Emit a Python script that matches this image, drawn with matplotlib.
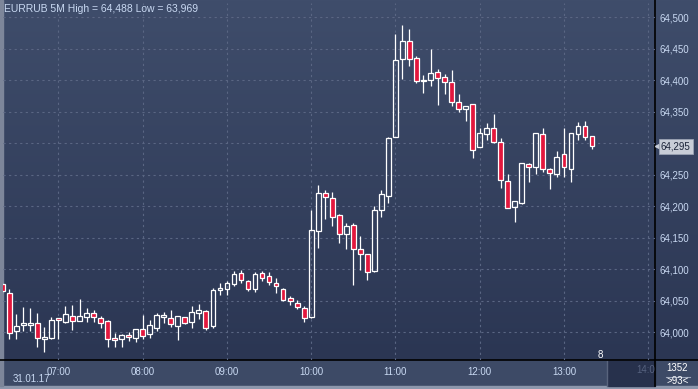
import numpy as np
import matplotlib
matplotlib.use('Agg')
import matplotlib.pyplot as plt
from matplotlib.colors import LinearSegmentedColormap
from matplotlib.transforms import blended_transform_factory

# EURRUB 5-minute candles, 31.01.17, first bar 06:20
start_minute = 6 * 60 + 20
opens = [64.076, 64.062, 64.002, 64.011, 64.011, 64.015, 63.990, 63.991, 64.022, 64.017,
         64.026, 64.018, 64.025, 64.031, 64.022, 64.018, 63.991, 63.989, 63.996, 63.991,
         64.006, 63.997, 64.007, 64.024, 64.022, 64.010, 64.024, 64.017, 64.030, 64.034,
         64.010, 64.067, 64.069, 64.077, 64.094, 64.081, 64.068, 64.094, 64.089, 64.078,
         64.069, 64.054, 64.046, 64.038, 64.024, 64.161, 64.221, 64.213, 64.186, 64.156,
         64.171, 64.132, 64.124, 64.098, 64.194, 64.217, 64.310, 64.434, 64.462, 64.435,
         64.399, 64.401, 64.413, 64.405, 64.398, 64.365, 64.354, 64.362, 64.294, 64.314,
         64.325, 64.302, 64.240, 64.199, 64.206, 64.267, 64.263, 64.314, 64.259, 64.252,
         64.283, 64.260, 64.314, 64.327, 64.311]
highs = [64.078, 64.069, 64.029, 64.040, 64.039, 64.031, 64.009, 64.024, 64.022, 64.042,
         64.043, 64.053, 64.038, 64.035, 64.026, 64.020, 63.999, 63.998, 64.000, 64.006,
         64.027, 64.020, 64.031, 64.032, 64.035, 64.026, 64.025, 64.042, 64.045, 64.035,
         64.071, 64.079, 64.082, 64.098, 64.099, 64.083, 64.095, 64.098, 64.095, 64.086,
         64.071, 64.058, 64.051, 64.041, 64.194, 64.234, 64.226, 64.223, 64.187, 64.173,
         64.173, 64.153, 64.124, 64.200, 64.226, 64.310, 64.473, 64.488, 64.481, 64.438,
         64.408, 64.450, 64.418, 64.410, 64.416, 64.378, 64.360, 64.362, 64.324, 64.333,
         64.346, 64.309, 64.251, 64.208, 64.268, 64.269, 64.317, 64.324, 64.261, 64.288,
         64.324, 64.316, 64.334, 64.336, 64.312]
lows = [64.062, 63.990, 63.990, 64.002, 64.002, 63.976, 63.969, 63.989, 63.990, 64.014,
        64.003, 64.018, 64.017, 64.017, 64.007, 63.976, 63.976, 63.976, 63.986, 63.985,
        63.989, 63.991, 64.002, 64.014, 64.009, 63.988, 64.013, 64.007, 64.021, 64.003,
        64.007, 64.060, 64.060, 64.073, 64.079, 64.066, 64.064, 64.081, 64.075, 64.063,
        64.050, 64.044, 64.037, 64.017, 64.022, 64.134, 64.180, 64.169, 64.142, 64.132,
        64.075, 64.099, 64.083, 64.096, 64.183, 64.206, 64.310, 64.402, 64.423, 64.395,
        64.380, 64.391, 64.361, 64.379, 64.359, 64.349, 64.336, 64.277, 64.294, 64.305,
        64.301, 64.229, 64.197, 64.175, 64.203, 64.239, 64.252, 64.254, 64.227, 64.247,
        64.247, 64.239, 64.306, 64.306, 64.291]
closes = [64.066, 63.999, 64.010, 64.014, 64.015, 63.991, 63.992, 64.019, 64.019, 64.029,
          64.018, 64.026, 64.031, 64.025, 64.015, 63.990, 63.987, 63.995, 63.993, 64.006,
          63.994, 64.011, 64.027, 64.027, 64.013, 64.026, 64.015, 64.033, 64.035, 64.007,
          64.067, 64.070, 64.078, 64.092, 64.083, 64.068, 64.093, 64.086, 64.080, 64.073,
          64.052, 64.049, 64.040, 64.022, 64.163, 64.221, 64.214, 64.183, 64.156, 64.168,
          64.133, 64.124, 64.096, 64.194, 64.219, 64.308, 64.433, 64.463, 64.434, 64.399,
          64.400, 64.411, 64.403, 64.397, 64.365, 64.354, 64.360, 64.290, 64.317, 64.325,
          64.302, 64.242, 64.198, 64.208, 64.268, 64.263, 64.316, 64.259, 64.253, 64.279,
          64.262, 64.316, 64.327, 64.310, 64.295]

hour_labels = ['07:00', '08:00', '09:00', '10:00', '11:00', '12:00', '13:00']
price_ticks = [64.000, 64.050, 64.100, 64.150, 64.200, 64.250, 64.300, 64.350, 64.400, 64.450, 64.500]

RED = '#e3173d'
TXT = '#c9d9f2'
GRID = '#5a6683'

W, H = 698, 389
fig = plt.figure(figsize=(W / 100, H / 100), dpi=100)

# background panels drawn in pixel coordinates
bg = fig.add_axes([0, 0, 1, 1])
bg.set_xlim(0, W)
bg.set_ylim(H, 0)
bg.axis('off')
grad = LinearSegmentedColormap.from_list('bg', ['#3f4d6b', '#2b3653'])
bg.imshow(np.linspace(0, 1, 256).reshape(-1, 1), cmap=grad, aspect='auto',
          extent=(0, W, 360, 0), zorder=0)
bg.add_patch(plt.Rectangle((0, 360), W, 26, color='#3d4a66', zorder=1))
bg.add_patch(plt.Rectangle((0, 386), W, 3, color='#8d97ac', zorder=1))
bg.add_patch(plt.Rectangle((608, 361), 47, 25, color='#27314c', zorder=2))
bg.plot([607, 607], [361, 386], color='#59647d', lw=1, zorder=3)
bg.add_patch(plt.Rectangle((0, 0), 2.5, 386, color='#7d869a', zorder=3))
bg.plot([0, W], [360, 360], color='black', lw=1.2, zorder=4)
bg.plot([655, 655], [0, 386], color='black', lw=1.2, zorder=4)
bg.text(4, 9, 'EURRUB 5M High = 64,488 Low = 63,969', color=TXT, fontsize=7.5,
        family='Liberation Sans', va='center', ha='left', zorder=5)
bg.text(13, 379, '31.01.17', color=TXT, fontsize=7, family='Liberation Sans',
        va='center', ha='left', zorder=5)
bg.text(646, 370, '14:0', color='#56627f', fontsize=7, family='Liberation Sans',
        va='center', ha='center', zorder=5, clip_on=True)
bg.text(677, 368, '1352', color='white', fontsize=7, family='Liberation Sans',
        va='center', ha='center', zorder=5)
bg.plot([666, 690], [376.5, 376.5], color='#9aa4b8', lw=0.8, zorder=5)
bg.text(678, 381, '>93<', color='white', fontsize=7, family='Liberation Sans',
        va='center', ha='center', zorder=5)
bg.text(600, 355, '8', color='white', fontsize=7, family='Liberation Sans',
        va='center', ha='center', zorder=5)

# main candle axes
ax = fig.add_axes([3 / W, 29 / H, 652 / W, 357 / H])
ax.patch.set_alpha(0)
x = np.arange(len(opens))
px = 7.02  # pixels per bar
ax.set_xlim((3 - 2.3) / px, (655 - 2.3) / px)
p0 = 64.0
ppx = 0.63 / 0.001  # pixels per price unit
ax.set_ylim(p0 - (360 - 332.3) / ppx, p0 + (332.3 - 3) / ppx)

hour_pos = [(int(h[:2]) * 60 - start_minute) / 5 for h in hour_labels + ['14:00']]
for hp in hour_pos:
    ax.axvline(hp, color=GRID, lw=0.8, ls=(0, (2, 3)), zorder=1)
for pt in price_ticks:
    ax.axhline(pt, color=GRID, lw=0.8, ls=(0, (2, 3)), zorder=1)

o = np.array(opens)
h = np.array(highs)
l = np.array(lows)
c = np.array(closes)
top = np.maximum(o, c)
bot = np.minimum(o, c)
body = np.maximum(top - bot, 0.0012)
ax.vlines(x, top, h, color='white', lw=0.9, zorder=2)
ax.vlines(x, l, bot, color='white', lw=0.9, zorder=2)
down = c < o
ax.bar(x[down], body[down], bottom=bot[down], width=0.68, color=RED,
       edgecolor='white', linewidth=0.9, zorder=3)
ax.bar(x[~down], body[~down], bottom=bot[~down], width=0.68, color='none',
       edgecolor='white', linewidth=0.9, zorder=3)

last = closes[-1]
ax.set_xticks(hour_pos[:-1])
ax.set_xticklabels(hour_labels, color=TXT, fontsize=7, family='Liberation Sans')
ax.yaxis.tick_right()
ax.set_yticks(price_ticks)
# the tick label nearest the current price sits under the price marker
ax.set_yticklabels(['' if abs(v - last) < 0.02 else f'{v:.3f}'.replace('.', ',')
                    for v in price_ticks],
                   color=TXT, fontsize=7, family='Liberation Sans')
ax.tick_params(axis='x', length=0, pad=5)
ax.tick_params(axis='y', length=0, pad=3)
for s in ax.spines.values():
    s.set_visible(False)

# current price marker
tr = blended_transform_factory(ax.transAxes, ax.transData)
ax.text(1.009, last, f'{last:.3f}'.replace('.', ','), transform=tr, fontsize=7,
        family='Liberation Sans', color='#1b2338', va='center', ha='left', zorder=6,
        bbox=dict(boxstyle='square,pad=0.22', fc='#c8cdd7', ec='#9aa2b3', lw=0.6))
ax.plot([1.0035], [last], marker='<', ms=3, color='#c8cdd7', transform=tr,
        clip_on=False, zorder=5)

fig.savefig('out.png', dpi=100)
